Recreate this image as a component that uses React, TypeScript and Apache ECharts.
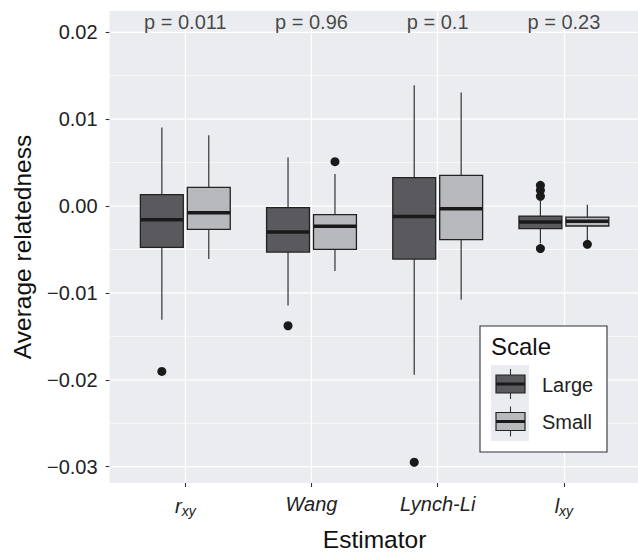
import React, { useEffect, useRef } from 'react';
import * as echarts from 'echarts';

const categories = ['r_xy', 'Wang', 'Lynch-Li', 'l_xy'];
const pLabels = ['p = 0.011', 'p = 0.96', 'p = 0.1', 'p = 0.23'];
const seriesNames = ['Large', 'Small'];
// [lower whisker, Q1, median, Q3, upper whisker]
const largeBoxes = [
  [-0.0131, -0.00476, -0.00157, 0.00131, 0.00903],
  [-0.01144, -0.0053, -0.003, -0.00018, 0.00558],
  [-0.01943, -0.0061, -0.00119, 0.00327, 0.0139],
  [-0.0043, -0.0026, -0.00184, -0.00115, 0.0007],
];
const smallBoxes = [
  [-0.0061, -0.00268, -0.00076, 0.00215, 0.00815],
  [-0.00749, -0.00499, -0.00234, -0.00099, 0.00369],
  [-0.01078, -0.00387, -0.0003, 0.00354, 0.01306],
  [-0.00395, -0.0023, -0.00176, -0.00127, 0.00016],
];
// [category index, value]
const largeOutliers = [
  [0, -0.01904],
  [1, -0.01378],
  [2, -0.02949],
  [3, 0.00238],
  [3, 0.00181],
  [3, 0.00112],
  [3, -0.0049],
];
const smallOutliers = [
  [1, 0.00511],
  [3, -0.00441],
];
const yTicks = [-0.03, -0.02, -0.01, 0, 0.01, 0.02];
const yMinorTicks = [-0.025, -0.015, -0.005, 0.005, 0.015];
const xTicks = [0, 1, 2, 3];
const pLabelY = 0.0212;
const Y_MIN = -0.03188;
const Y_MAX = 0.02245;

const FONT = "'Liberation Sans', Arial, Helvetica, sans-serif";
const LARGE_FILL = '#5a5a5e';
const SMALL_FILL = '#b8b9bc';
const PANEL = '#ebecef';
const DODGE = 0.186;
const BOX_W = 0.34;

function gridLineSeries(name: string, values: number[], width: number) {
  return {
    type: 'custom',
    name,
    z: 1,
    silent: true,
    encode: { x: 0, y: 1 },
    data: values.map((v) => [0, v]),
    renderItem: (params: any, api: any) => {
      const cs = params.coordSys;
      const y = api.coord([0, api.value(1)])[1];
      return {
        type: 'line',
        shape: { x1: cs.x, y1: y, x2: cs.x + cs.width, y2: y },
        style: { stroke: '#ffffff', lineWidth: width },
      };
    },
  };
}

function boxSeries(name: string, data: number[][], dodge: number, fill: string) {
  return {
    type: 'custom',
    name,
    z: 3,
    dimensions: ['x', 'lo', 'q1', 'med', 'q3', 'hi'],
    encode: { x: 0, y: [1, 2, 3, 4, 5] },
    data: data.map((d, i) => [i, ...d]),
    renderItem: (params: any, api: any) => {
      const x = api.value(0) + dodge;
      const lo = api.coord([x, api.value(1)]);
      const q1 = api.coord([x, api.value(2)]);
      const med = api.coord([x, api.value(3)]);
      const q3 = api.coord([x, api.value(4)]);
      const hi = api.coord([x, api.value(5)]);
      const hw = api.size([BOX_W, 0])[0] / 2;
      const cx = lo[0];
      return {
        type: 'group',
        children: [
          { type: 'line', shape: { x1: cx, y1: hi[1], x2: cx, y2: q3[1] }, style: { stroke: '#333', lineWidth: 1.2 } },
          { type: 'line', shape: { x1: cx, y1: q1[1], x2: cx, y2: lo[1] }, style: { stroke: '#333', lineWidth: 1.2 } },
          {
            type: 'rect',
            shape: { x: cx - hw, y: q3[1], width: hw * 2, height: q1[1] - q3[1] },
            style: { fill, stroke: '#222', lineWidth: 1.3 },
          },
          { type: 'line', shape: { x1: cx - hw, y1: med[1], x2: cx + hw, y2: med[1] }, style: { stroke: '#1a1a1a', lineWidth: 3.5 } },
        ],
      };
    },
  };
}

function outlierSeries(name: string, data: number[][], dodge: number) {
  return {
    type: 'scatter',
    name: name + ' outliers',
    z: 4,
    symbol: 'circle',
    symbolSize: 9,
    itemStyle: { color: '#1a1a1a', opacity: 1 },
    data: data.map((d) => [d[0] + dodge, d[1]]),
  };
}

function legendKey(y: number, fill: string) {
  return [
    { type: 'line', shape: { x1: 510.5, y1: y - 15, x2: 510.5, y2: y + 15 }, style: { stroke: '#333', lineWidth: 1.1 } },
    { type: 'rect', shape: { x: 496, y: y - 9, width: 29, height: 18 }, style: { fill, stroke: '#222', lineWidth: 1.2 } },
    { type: 'line', shape: { x1: 496, y1: y, x2: 525, y2: y }, style: { stroke: '#1a1a1a', lineWidth: 3 } },
  ];
}

function xLabel(v: number) {
  const i = Math.round(v);
  if (Math.abs(v - i) > 1e-6 || i < 0 || i >= categories.length) return '';
  const c = categories[i];
  if (c.includes('_')) {
    const [a, b] = c.split('_');
    return '{i|' + a + '}{s|' + b + '}';
  }
  return '{i|' + c + '}';
}

export default function App() {
  const ref = useRef<HTMLDivElement>(null);
  useEffect(() => {
    if (!ref.current) return;
    const chart = echarts.init(ref.current, undefined, { renderer: 'svg' });
    const legendChildren: any[] = [
      { type: 'rect', shape: { x: 480, y: 326, width: 127, height: 126 }, style: { fill: '#ffffff', stroke: '#333', lineWidth: 1.1 } },
      { type: 'text', x: 491, y: 346, style: { text: 'Scale', fontSize: 24, fontFamily: FONT, fill: '#111', verticalAlign: 'middle', align: 'left' } },
      { type: 'rect', shape: { x: 491, y: 365, width: 38, height: 76 }, style: { fill: PANEL } },
      ...legendKey(384, LARGE_FILL),
      ...legendKey(421.5, SMALL_FILL),
      { type: 'text', x: 542, y: 385, style: { text: seriesNames[0], fontSize: 20, fontFamily: FONT, fill: '#222', verticalAlign: 'middle', align: 'left' } },
      { type: 'text', x: 542, y: 421.5, style: { text: seriesNames[1], fontSize: 20, fontFamily: FONT, fill: '#222', verticalAlign: 'middle', align: 'left' } },
    ].map((el, i) => ({ ...el, z: 100 + i }));
    const option: any = {
      animation: false,
      backgroundColor: '#ffffff',
      textStyle: { fontFamily: FONT },
      grid: {
        left: 109.6,
        top: 11,
        width: 530,
        height: 472,
        show: true,
        backgroundColor: PANEL,
        borderWidth: 0,
        outerBoundsMode: 'none',
      },
      xAxis: {
        type: 'value',
        min: -0.6,
        max: 3.6,
        name: 'Estimator',
        nameLocation: 'middle',
        nameGap: 44,
        nameTextStyle: { fontSize: 24.5, color: '#111', fontFamily: FONT },
        axisLine: { show: false, onZero: false },
        axisTick: { show: true, length: 4, customValues: xTicks, lineStyle: { color: '#333', width: 1.1 } },
        axisLabel: {
          customValues: xTicks,
          margin: 11,
          formatter: xLabel,
          color: '#222',
          rich: {
            i: { fontStyle: 'italic', fontSize: 20, color: '#222', fontFamily: FONT },
            s: { fontStyle: 'italic', fontSize: 14, color: '#222', fontFamily: FONT, padding: [10, 0, 0, 0] },
          },
        },
        splitLine: { show: true, lineStyle: { color: '#ffffff', width: 1.3 } },
      },
      yAxis: {
        type: 'value',
        min: Y_MIN,
        max: Y_MAX,
        name: 'Average relatedness',
        nameLocation: 'middle',
        nameGap: 75,
        nameTextStyle: { fontSize: 24.5, color: '#111', fontFamily: FONT },
        axisLine: { show: false, onZero: false },
        axisTick: { show: true, length: 4, customValues: yTicks, lineStyle: { color: '#333', width: 1.1 } },
        axisLabel: {
          customValues: yTicks,
          margin: 12,
          fontSize: 20,
          color: '#222',
          fontFamily: FONT,
          formatter: (v: number) => v.toFixed(2).replace('-', '\u2212'),
        },
        splitLine: { show: false },
      },
      series: [
        gridLineSeries('minor grid', yMinorTicks, 0.7),
        gridLineSeries('major grid', yTicks, 1.3),
        boxSeries(seriesNames[0], largeBoxes, -DODGE, LARGE_FILL),
        boxSeries(seriesNames[1], smallBoxes, DODGE, SMALL_FILL),
        outlierSeries(seriesNames[0], largeOutliers, -DODGE),
        outlierSeries(seriesNames[1], smallOutliers, DODGE),
        {
          type: 'scatter',
          name: 'p values',
          symbolSize: 1,
          itemStyle: { color: 'rgba(0,0,0,0)' },
          data: pLabels.map((_, i) => [i, pLabelY]),
          label: {
            show: true,
            position: 'inside',
            formatter: (p: any) => pLabels[p.dataIndex],
            fontSize: 20,
            color: '#1a1a1a',
            fontFamily: FONT,
          },
          z: 5,
        },
      ],
      graphic: legendChildren,
    };
    chart.setOption(option);
    return () => chart.dispose();
  }, []);
  return <div ref={ref} style={{ position: 'fixed', left: 0, top: 0, width: 638, height: 555 }} />;
}
